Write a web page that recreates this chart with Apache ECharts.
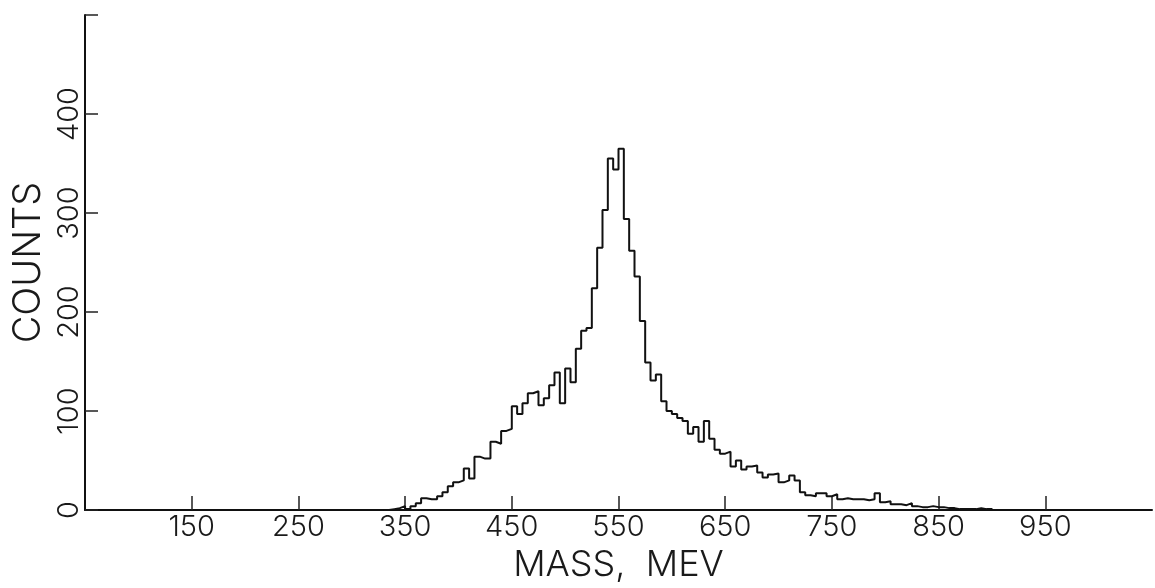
<!DOCTYPE html>
<html>
<head>
<meta charset="utf-8">
<script src="https://cdn.jsdelivr.net/npm/echarts@6/dist/echarts.min.js"></script>
<style>
html,body{margin:0;padding:0;background:#fff;}
#chart{width:1155px;height:588px;}
</style>
</head>
<body>
<div id="chart"></div>
<script>
// Histogram bin lower edges (MeV) and counts
const binEdges = [330,335,340,345,350,355,360,365,370,375,380,385,390,395,400,405,410,415,420,425,430,435,440,445,450,455,460,465,470,475,480,485,490,495,500,505,510,515,520,525,530,535,540,545,550,555,560,565,570,575,580,585,590,595,600,605,610,615,620,625,630,635,640,645,650,655,660,665,670,675,680,685,690,695,700,705,710,715,720,725,730,735,740,745,750,755,760,765,770,775,780,785,790,795,800,805,810,815,820,825,830,835,840,845,850,855,860,865,870,875,880,885,890,895,900];
const counts   = [0,1,2,4,1,4,7,12,11,11,14,18,24,28,30,42,32,54,52,52,69,67,80,82,105,97,108,118,120,106,113,126,139,108,143,129,163,181,184,224,265,303,355,344,365,294,262,236,191,149,131,137,110,100,97,93,90,77,84,69,90,72,61,57,59,44,50,41,44,45,38,33,36,37,28,30,35,30,18,15,14,17,17,14,16,11,12,11,11,11,10,11,17,8,9,6,6,5,7,4,3,3,4,3,3,2,2,1,1,1,1,2,1,1,0];
const xTickLabels = [150,250,350,450,550,650,750,850,950];
const yTickLabels = [0,100,200,300,400];
const yTickMarks = [0,100,200,300,400,500];

const data = counts.map((c, i) => [binEdges[i], c]);

const FONT = 'Inter';
const chart = echarts.init(document.getElementById('chart'), null, {renderer: 'canvas'});
chart.setOption({
  animation: false,
  backgroundColor: '#ffffff',
  grid: {left: 85, top: 15, width: 1075, height: 504, containLabel: false},
  xAxis: {
    type: 'value', min: 50, max: 1050, interval: 100,
    name: 'MASS,  MEV', nameLocation: 'middle', nameGap: 28,
    nameTextStyle: {fontFamily: FONT, fontSize: 36, fontWeight: 300, color: '#1a1a1a'},
    axisLine: {show: true, lineStyle: {color: '#111', width: 2}},
    axisTick: {show: true, inside: true, length: 14, customValues: xTickLabels, lineStyle: {color: '#222', width: 1.5}},
    axisLabel: {
      margin: 3, fontFamily: FONT, fontSize: 29, fontWeight: 300, color: '#1a1a1a',
      formatter: v => xTickLabels.includes(v) ? String(v) : ''
    },
    splitLine: {show: false}
  },
  yAxis: {
    type: 'value', min: 0, max: 500, interval: 100,
    name: 'COUNTS', nameLocation: 'middle', nameGap: 34, nameRotate: 90,
    nameTextStyle: {fontFamily: FONT, fontSize: 38, fontWeight: 300, color: '#1a1a1a'},
    axisLine: {show: true, lineStyle: {color: '#111', width: 2}},
    axisTick: {show: true, inside: true, length: 13, customValues: yTickMarks, lineStyle: {color: '#222', width: 1.5}},
    axisLabel: {
      rotate: 90, margin: 1, fontFamily: FONT, fontSize: 29, fontWeight: 300, color: '#1a1a1a',
      formatter: v => yTickLabels.includes(v) ? String(v) : ''
    },
    splitLine: {show: false}
  },
  series: [{
    type: 'line', step: 'end', data: data, symbol: 'none',
    lineStyle: {color: '#111', width: 2}
  }]
});
</script>
</body>
</html>
